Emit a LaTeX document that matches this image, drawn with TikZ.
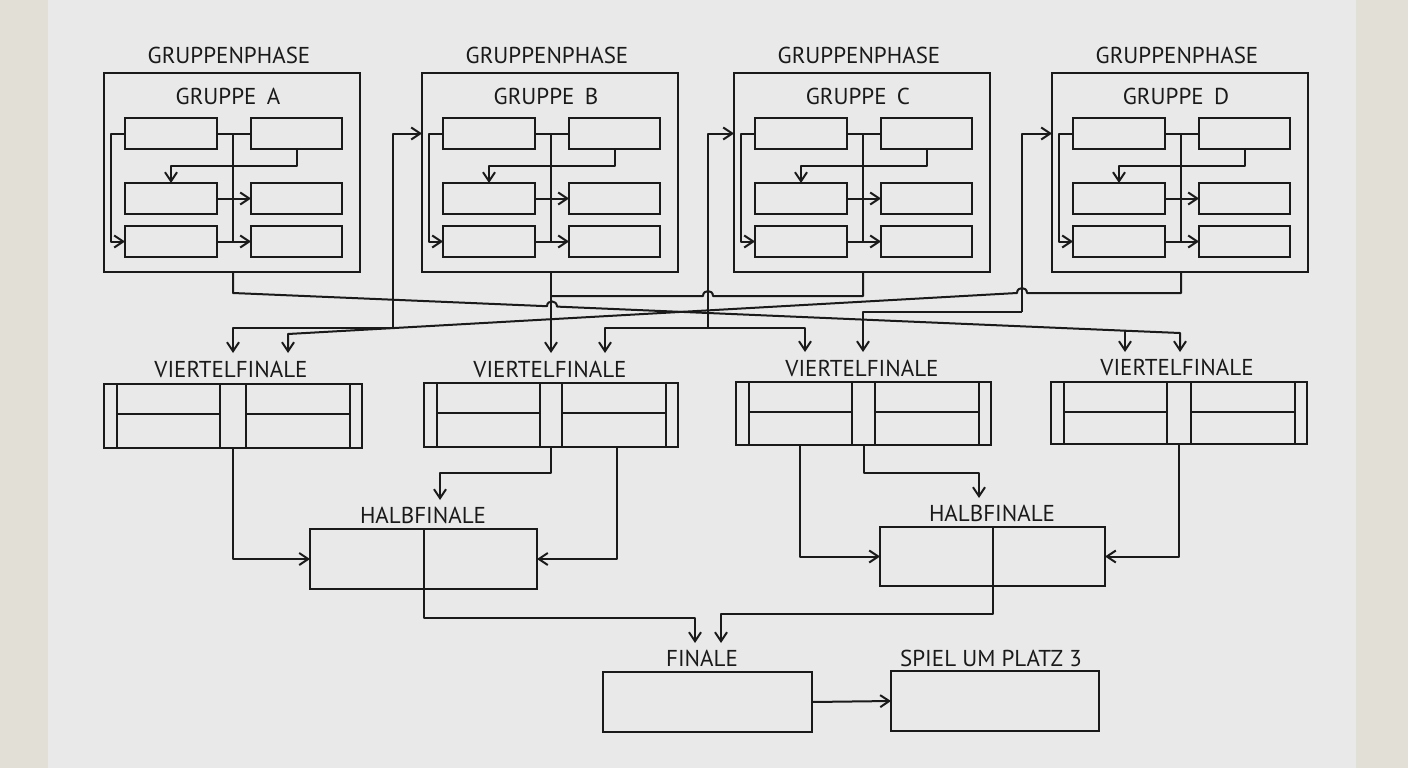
\documentclass[tikz,border=0pt]{standalone}
\usepackage{fontspec}
\setmainfont{PT Sans}
\usetikzlibrary{arrows.meta}
\definecolor{ink}{HTML}{1A1A1A}
\definecolor{paper}{HTML}{E9E9EA}
\definecolor{desk}{HTML}{E2E0D6}
\tikzset{
  ln/.style={draw=ink, line width=2pt, line join=round},
  arr/.style={ln, -{Straight Barb[length=9pt,width=12pt]}},
  box/.style={draw=ink, line width=2pt, inner sep=0pt, outer sep=0pt},
  lbl/.style={font=\fontsize{23}{24}\selectfont, text=ink, inner sep=0pt},
}
\newcommand{\groupblock}[3]{%
  \node[lbl] (#1gp) at ({#2+125},55) {GRUPPENPHASE};
  \node[box, minimum width=256, minimum height=199] (#1o) at ({#2+128},172.5) {};
  \node[lbl] (#1gt) at ({#2+124},96) {GRUPPE\hspace{0.45em}#3};
  \node[box, minimum width=92, minimum height=31] (#1a) at ({#2+67},133.5) {};
  \node[box, minimum width=91, minimum height=31] (#1b) at ({#2+192.5},133.5) {};
  \node[box, minimum width=92, minimum height=31] (#1c) at ({#2+67},198.5) {};
  \node[box, minimum width=91, minimum height=31] (#1d) at ({#2+192.5},198.5) {};
  \node[box, minimum width=92, minimum height=31] (#1e) at ({#2+67},241.5) {};
  \node[box, minimum width=91, minimum height=31] (#1f) at ({#2+192.5},241.5) {};
  \coordinate (#1bus) at ({#2+129},272);
  \draw[ln] (#1a.east) -- (#1b.west);
  \draw[ln] (#1a.east -| #1bus) -- (#1e.east -| #1bus);
  \draw[arr] (#1a.west) -- ++(-14,0) |- (#1e.west);
  \draw[arr] (#1b.south) -- ++(0,17) -| (#1c.north);
  \draw[arr] (#1c.east) -- (#1d.west);
  \draw[arr] (#1e.east) -- (#1f.west);
}
\newcommand{\vfblock}[5]{%
  \node[box, minimum width=#4, minimum height=#5] (#1) at (#2,#3) {};
  \draw[ln] ([xshift=13pt]#1.north west) -- ([xshift=13pt]#1.south west);
  \draw[ln] ([xshift=116pt]#1.north west) -- ([xshift=116pt]#1.south west);
  \draw[ln] ([xshift=-116pt]#1.north east) -- ([xshift=-116pt]#1.south east);
  \draw[ln] ([xshift=-12pt]#1.north east) -- ([xshift=-12pt]#1.south east);
  \draw[ln] ([xshift=13pt,yshift=-30pt]#1.north west) -- ([xshift=116pt,yshift=-30pt]#1.north west);
  \draw[ln] ([xshift=-116pt,yshift=-30pt]#1.north east) -- ([xshift=-12pt,yshift=-30pt]#1.north east);
}
\begin{document}
\begin{tikzpicture}[x=1pt,y=-1pt]
\useasboundingbox (0,0) rectangle (1408,768);
\fill[desk] (0,0) rectangle (1408,768);
\fill[paper] (48,0) rectangle (1356,768);

% groups
\groupblock{A}{104}{A}
\groupblock{B}{422}{B}
\groupblock{C}{734}{C}
\groupblock{D}{1052}{D}

% quarterfinals
\node[lbl] (vf1t) at (231,369) {VIERTELFINALE};
\node[lbl] (vf2t) at (550,369) {VIERTELFINALE};
\node[lbl] (vf3t) at (862,368) {VIERTELFINALE};
\node[lbl] (vf4t) at (1177,367) {VIERTELFINALE};
\vfblock{vf1}{233}{416}{258}{64}
\vfblock{vf2}{551}{415}{254}{64}
\vfblock{vf3}{863.5}{413.5}{255}{63}
\vfblock{vf4}{1179}{413}{256}{62}

\coordinate (vf1in1) at (233,353);
\coordinate (vf1in2) at (288,353);
\coordinate (vf2in1) at (551,353);
\coordinate (vf2in2) at (605,353);
\coordinate (vf3in1) at (805,352);
\coordinate (vf3in2) at (863,352);
\coordinate (vf4in1) at (1125,352);
\coordinate (vf4in2) at (1180,352);

% group -> quarterfinal connectors
\coordinate (p1b) at (1125,330.7);
\draw[arr] (Ao.south -| Abus) -- (233,293) -- (547,306.2)
  to[out=90,in=90,looseness=1.7] (557,306.6) -- (p1b) -- (1180,333) -- (vf4in2);
\draw[arr] (p1b) -- (vf4in1);

\draw[arr] (Do.south -| Dbus) -- (1181,293) -- (1027,293)
  to[out=90,in=90,looseness=1.7] (1017,293) -- (288,334) -- (vf1in2);

\coordinate (jAB) at (393,327.5);
\draw[arr] (jAB) |- (Ba -| Bo.west);
\draw[arr] (jAB) -| (vf1in1);

\draw[arr] (Bo.south -| Bbus) -- (vf2in1);

\draw[ln] (Co.south -| Cbus) -- (863,296) -- (713,296)
  to[out=90,in=90,looseness=1.7] (703,296) -- (551,296);

\coordinate (jBC) at (708,328);
\draw[arr] (jBC) |- (Ca -| Co.west);
\draw[arr] (jBC) -| (vf2in2);
\draw[arr] (jBC) -| (vf3in1);

\coordinate (jCD) at (1022,312);
\draw[arr] (jCD) |- (Da -| Do.west);
\draw[arr] (jCD) -| (vf3in2);

% semifinals
\node[lbl] (hf1t) at (423,515) {HALBFINALE};
\node[box, minimum width=227, minimum height=60] (hf1) at (423.5,559) {};
\draw[ln] (hf1.north) -- (hf1.south);
\node[lbl] (hf2t) at (992,513) {HALBFINALE};
\node[box, minimum width=225, minimum height=59] (hf2) at (992.5,556.5) {};
\draw[ln] (hf2.north) -- (hf2.south);

\coordinate (hfin1) at (440,500);
\coordinate (hfin2) at (979,498);
\draw[arr] (vf1.south) |- (hf1.west);
\draw[arr] (vf2.south) -- ++(0,26) -| (hfin1);
\draw[arr] ([xshift=66pt]vf2.south) |- (hf1.east);
\draw[arr] ([xshift=-63.5pt]vf3.south) |- (hf2.west);
\draw[arr] (vf3.south) -- ++(0,28) -| (hfin2);
\draw[arr] (vf4.south) |- (hf2.east);

% final
\node[lbl] (fint) at (702,658) {FINALE};
\node[box, minimum width=209, minimum height=60] (fin) at (707.5,702) {};
\node[lbl] (sp3t) at (991,658) {SPIEL UM PLATZ 3};
\node[box, minimum width=208, minimum height=60] (sp3) at (995,701) {};

\coordinate (fin1) at (695,643);
\coordinate (fin2) at (721,643);
\draw[arr] (hf1.south) -- ++(0,29) -| (fin1);
\draw[arr] (hf2.south) -- ++(0,28) -| (fin2);
\draw[arr] (fin.east) -- (sp3.west);
\end{tikzpicture}
\end{document}
